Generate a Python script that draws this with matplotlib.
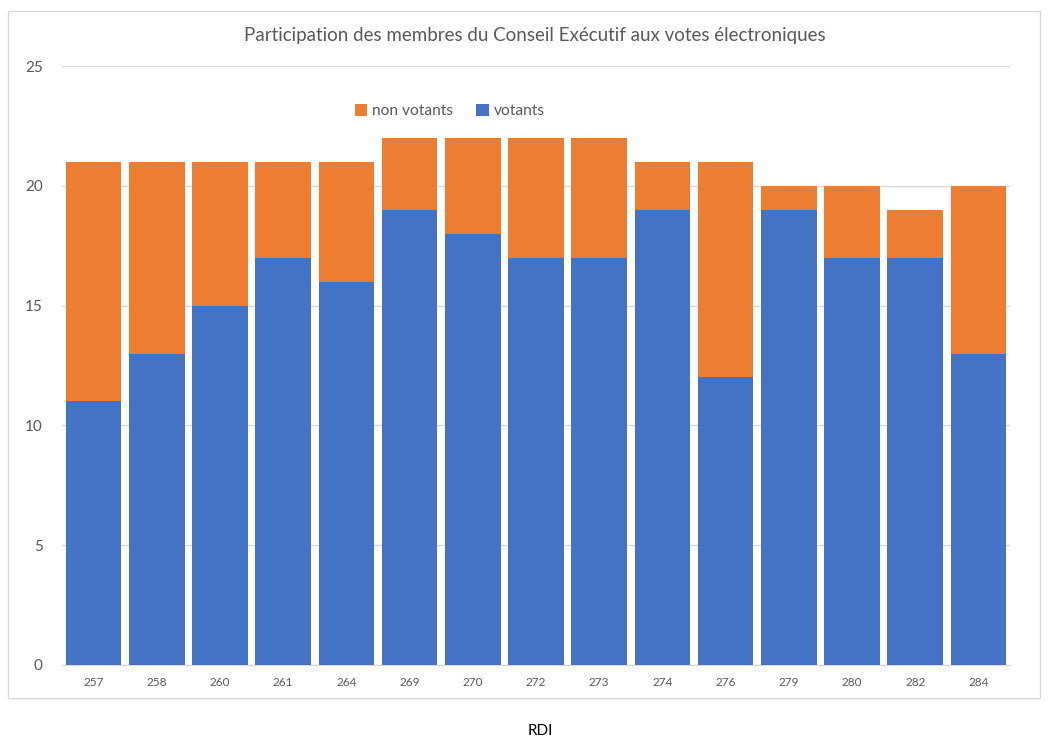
import matplotlib.pyplot as plt
from matplotlib.patches import Rectangle
import numpy as np

plt.rcParams['font.family'] = ['Lato', 'DejaVu Sans']

# data
rdi = ['257', '258', '260', '261', '264', '269', '270', '272', '273', '274', '276', '279', '280', '282', '284']
votants = [11, 13, 15, 17, 16, 19, 18, 17, 17, 19, 12, 19, 17, 17, 13]
non_votants = [10, 8, 6, 4, 5, 3, 4, 5, 5, 2, 9, 1, 3, 2, 7]

blue = '#4472C4'
orange = '#ED7D31'
textc = '#595959'
gridc = '#D9D9D9'

fig = plt.figure(figsize=(10.48, 7.40), dpi=100)
ax = fig.add_axes([62 / 1048, 1 - 665 / 740, 948 / 1048, 599 / 740])

x = np.arange(len(rdi))
ax.bar(x, votants, width=0.88, color=blue, label='votants', zorder=3)
ax.bar(x, non_votants, bottom=votants, width=0.88, color=orange, label='non votants', zorder=3)

ax.set_xlim(-0.5, len(rdi) - 0.5)
ax.set_ylim(0, 25)
ax.set_yticks([0, 5, 10, 15, 20, 25])
ax.set_xticks(x)
ax.set_xticklabels(rdi)
ax.yaxis.grid(True, color=gridc, linewidth=1, zorder=0)
for s in ['top', 'right', 'left']:
    ax.spines[s].set_visible(False)
ax.spines['bottom'].set_color(gridc)
ax.tick_params(axis='both', length=0, colors=textc)
ax.tick_params(axis='x', labelsize=8.5, pad=9)
ax.tick_params(axis='y', labelsize=11, pad=14)

handles, labels = ax.get_legend_handles_labels()
ax.legend(handles[::-1], labels[::-1], loc='center', bbox_to_anchor=(0.409, 0.925), ncol=2,
          frameon=False, fontsize=11.2, handlelength=0.8, handleheight=0.8, handletextpad=0.3,
          columnspacing=1.5, labelcolor=textc)

fig.text(535 / 1048, 1 - 36 / 740, 'Participation des membres du Conseil Exécutif aux votes électroniques',
         ha='center', va='center', fontsize=13.5, color=textc)
fig.text(540 / 1048, 1 - 731 / 740, 'RDI', ha='center', va='center', fontsize=11, color='black')

fig.patches.append(Rectangle((8 / 1048, 1 - 698 / 740), 1032 / 1048, 687 / 740,
                             transform=fig.transFigure, fill=False, edgecolor=gridc, linewidth=1))

fig.savefig('out.png', dpi=100)
